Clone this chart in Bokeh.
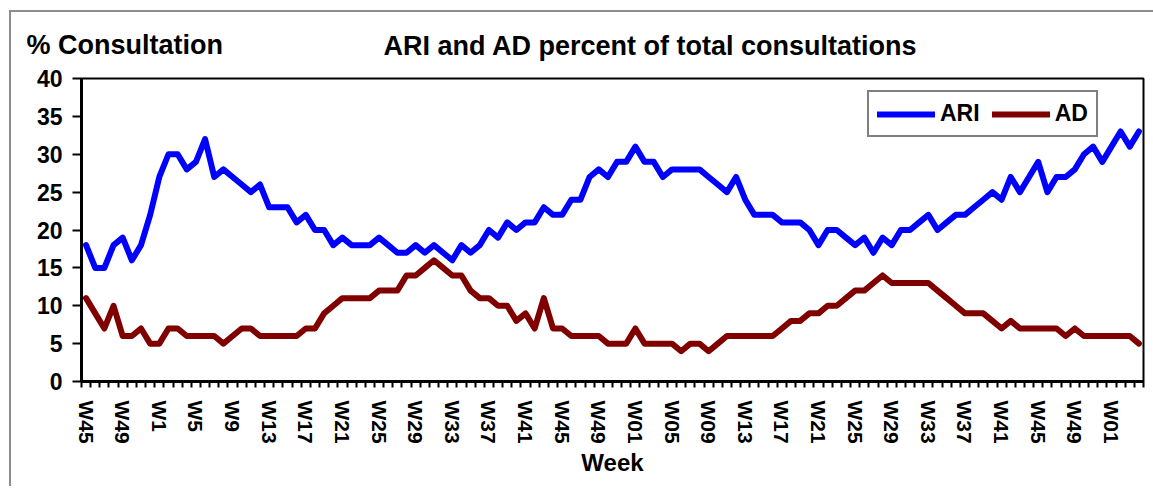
import math
from bokeh.plotting import figure
from bokeh.layouts import column
from bokeh.models import Range1d, FixedTicker, Legend, LegendItem
from bokeh.core.properties import value
from bokeh.embed import file_html
from bokeh.resources import INLINE

# Week categories (W45 of first year through W04 of the last year)
week_labels = (["W%d" % w for w in range(45, 53)]
               + ["W%d" % w for w in range(1, 53)]
               + ["W%02d" % w for w in range(1, 53)]
               + ["W%02d" % w for w in range(1, 5)])

# % of total consultations
ari = [18, 15, 15, 18, 19, 16, 18, 22, 27, 30, 30, 28, 29, 32, 27, 28, 27, 26, 25, 26,
       23, 23, 23, 21, 22, 20, 20, 18, 19, 18, 18, 18, 19, 18, 17, 17, 18, 17, 18, 17,
       16, 18, 17, 18, 20, 19, 21, 20, 21, 21, 23, 22, 22, 24, 24, 27, 28, 27, 29, 29,
       31, 29, 29, 27, 28, 28, 28, 28, 27, 26, 25, 27, 24, 22, 22, 22, 21, 21, 21, 20,
       18, 20, 20, 19, 18, 19, 17, 19, 18, 20, 20, 21, 22, 20, 21, 22, 22, 23, 24, 25,
       24, 27, 25, 27, 29, 25, 27, 27, 28, 30, 31, 29, 31, 33, 31, 33]
ad = [11, 9, 7, 10, 6, 6, 7, 5, 5, 7, 7, 6, 6, 6, 6, 5, 6, 7, 7, 6,
      6, 6, 6, 6, 7, 7, 9, 10, 11, 11, 11, 11, 12, 12, 12, 14, 14, 15, 16, 15,
      14, 14, 12, 11, 11, 10, 10, 8, 9, 7, 11, 7, 7, 6, 6, 6, 6, 5, 5, 5,
      7, 5, 5, 5, 5, 4, 5, 5, 4, 5, 6, 6, 6, 6, 6, 6, 7, 8, 8, 9,
      9, 10, 10, 11, 12, 12, 13, 14, 13, 13, 13, 13, 13, 12, 11, 10, 9, 9, 9, 8,
      7, 8, 7, 7, 7, 7, 7, 6, 7, 6, 6, 6, 6, 6, 6, 5]

y_ticks = [0, 5, 10, 15, 20, 25, 30, 35, 40]

n = len(week_labels)
xs = list(range(n))
label_pos = list(range(0, n, 4))
FONT = "Liberation Sans"
W = 1142

# ---- header strip with the two texts (1 data unit = 1 page px) ----
top = figure(width=W, height=50, output_backend="svg", toolbar_location=None, title=None,
             x_range=Range1d(11, 11 + W), y_range=Range1d(62, 12),
             min_border=0, x_axis_type=None, y_axis_type=None)
top.frame_align = False
top.outline_line_color = None
top.background_fill_color = "white"
top.border_fill_color = "white"
top.xgrid.visible = False
top.ygrid.visible = False
top.text(x=[26], y=[44], text=["% Consultation"], text_font=value(FONT),
         text_font_style="bold", text_font_size="27px", text_color="black",
         text_baseline="alphabetic", text_align="left")
top.text(x=[383], y=[45], text=["ARI and AD percent of  total consultations"],
         text_font=value(FONT), text_font_style="bold", text_font_size="27px",
         text_color="black", text_baseline="alphabetic", text_align="left")

# ---- main chart ----
p = figure(width=W, height=424, output_backend="svg", toolbar_location=None, title=None,
           x_range=Range1d(-0.5, n - 0.5), y_range=Range1d(0, 40),
           min_border_left=70, min_border_right=10, min_border_top=16, min_border_bottom=105)
p.frame_align = False
p.background_fill_color = "white"
p.border_fill_color = "white"
p.outline_line_color = "black"
p.outline_line_width = 2
p.xgrid.visible = False
p.ygrid.visible = False

r_ari = p.line(xs, ari, line_color="#0000FF", line_width=6, line_join="round", line_cap="round")
r_ad = p.line(xs, ad, line_color="#800000", line_width=6, line_join="round", line_cap="round")

xax = p.xaxis[0]
xax.ticker = FixedTicker(ticks=label_pos, minor_ticks=[i - 0.5 for i in range(n + 1)])
xax.major_label_overrides = {i: week_labels[i] for i in label_pos}
xax.major_label_orientation = -math.pi / 2
xax.major_label_text_font = FONT
xax.major_label_text_font_style = "bold"
xax.major_label_text_font_size = "21px"
xax.major_label_text_color = "black"
xax.major_tick_line_color = None
xax.major_tick_out = 6
xax.major_tick_in = 0
xax.major_label_standoff = 13
xax.minor_tick_line_color = "black"
xax.minor_tick_line_width = 2
xax.minor_tick_out = 6
xax.minor_tick_in = 0
xax.axis_line_width = 3
xax.axis_line_color = "black"
xax.axis_label = "Week"
xax.axis_label_text_font = FONT
xax.axis_label_text_font_style = "bold"
xax.axis_label_text_font_size = "24px"
xax.axis_label_text_color = "black"
xax.axis_label_standoff = 2

yax = p.yaxis[0]
yax.ticker = FixedTicker(ticks=y_ticks)
yax.major_label_text_font = FONT
yax.major_label_text_font_style = "bold"
yax.major_label_text_font_size = "23px"
yax.major_label_text_color = "black"
yax.major_tick_line_color = "black"
yax.major_tick_line_width = 2
yax.major_tick_out = 9
yax.major_tick_in = 0
yax.major_label_standoff = 10
yax.minor_tick_line_color = None
yax.axis_line_width = 3
yax.axis_line_color = "black"

legend = Legend(items=[LegendItem(label="ARI", renderers=[r_ari]),
                       LegendItem(label="AD", renderers=[r_ad])],
                orientation="horizontal", location=(786, 244))
legend.border_line_color = "black"
legend.border_line_width = 2
legend.background_fill_color = "white"
legend.background_fill_alpha = 1
legend.label_text_font = FONT
legend.label_text_font_style = "bold"
legend.label_text_font_size = "23px"
legend.label_text_color = "black"
legend.glyph_width = 58
legend.glyph_height = 20
legend.label_standoff = 5
legend.spacing = 12
legend.padding = 8
legend.margin = 0
p.add_layout(legend, "center")

layout = column(top, p, spacing=0)
layout.styles = {"margin-left": "9px", "margin-top": "10px",
                 "border-left": "2px solid #8c8c8c", "border-top": "2px solid #8c8c8c"}

open("out.html", "w").write(file_html(layout, INLINE))
